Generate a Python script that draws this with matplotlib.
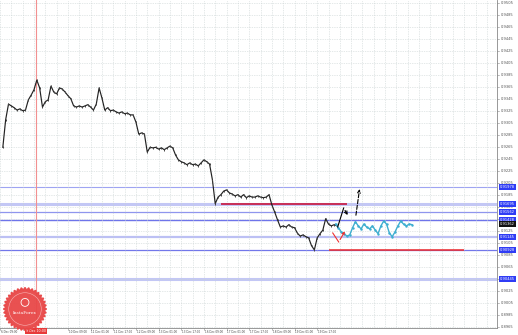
import numpy as np
import matplotlib
matplotlib.use("Agg")
import matplotlib.pyplot as plt

# price samples every 2 hours
close = [0.9264, 0.9310, 0.9336, 0.9333, 0.9330, 0.9326, 0.9328, 0.9325, 0.9326, 0.9343,
         0.9351, 0.9360, 0.9376, 0.9363, 0.9331, 0.9340, 0.9343, 0.9366, 0.9356, 0.9353,
         0.9363, 0.9361, 0.9356, 0.9350, 0.9345, 0.9333, 0.9331, 0.9333, 0.9331, 0.9333,
         0.9335, 0.9331, 0.9326, 0.9336, 0.9363, 0.9346, 0.9326, 0.9330, 0.9325, 0.9326,
         0.9323, 0.9321, 0.9323, 0.9320, 0.9321, 0.9318, 0.9318, 0.9306, 0.9286, 0.9288,
         0.9286, 0.9256, 0.9264, 0.9263, 0.9264, 0.9261, 0.9263, 0.9260, 0.9263, 0.9266,
         0.9263, 0.9251, 0.9243, 0.9240, 0.9238, 0.9235, 0.9238, 0.9235, 0.9236, 0.9233,
         0.9238, 0.9243, 0.9240, 0.9236, 0.9210, 0.9170, 0.9181, 0.9185, 0.9191, 0.9193,
         0.9188, 0.9186, 0.9183, 0.9185, 0.9181, 0.9185, 0.9180, 0.9183, 0.9181, 0.9181,
         0.9183, 0.9181, 0.9180, 0.9181, 0.9185, 0.9168, 0.9156, 0.9143, 0.9131, 0.9133,
         0.9131, 0.9135, 0.9131, 0.9130, 0.9121, 0.9116, 0.9118, 0.9115, 0.9113, 0.9100,
         0.9093, 0.9113, 0.9120, 0.9126, 0.9145, 0.9136, 0.9133, 0.9135, 0.9133]
hours = np.arange(len(close)) * 2

forecast = [0.9136, 0.9130, 0.9123, 0.9120, 0.9116, 0.9118, 0.9130, 0.9140, 0.9133, 0.9128,
            0.9136, 0.9131, 0.9128, 0.9133, 0.9126, 0.9120, 0.9133, 0.9141, 0.9136, 0.9121,
            0.9115, 0.9123, 0.9133, 0.9141, 0.9136, 0.9133, 0.9136, 0.9135]
forecast_start = 235
forecast_hours = forecast_start + np.arange(len(forecast)) * 2

levels = [0.91978, 0.91695, 0.91562, 0.91428, 0.91145, 0.90928, 0.90445]
level_widths = [0.8, 2.2, 0.9, 1.0, 1.6, 0.9, 2.2]
level_colors = ['#9ea4f2', '#c3c7f5', '#8f95ee', '#6e74ea', '#bcc0f4', '#7277ea', '#c3c7f5']
current_price = 0.91362

time_labels = ["6 Dec 09:00", "9 Dec 01:00", "9 Dec 17:00", "10 Dec 09:00", "11 Dec 01:00",
               "11 Dec 17:00", "12 Dec 09:00", "13 Dec 01:00", "13 Dec 17:00", "16 Dec 09:00",
               "17 Dec 01:00", "17 Dec 17:00", "18 Dec 09:00", "19 Dec 01:00", "19 Dec 17:00"]
time_ticks = [-2 + 16 * k for k in range(len(time_labels))]
price_ticks = [round(0.9505 - 0.002 * k, 4) for k in range(28)]
marker_time = 23.2

fig = plt.figure(figsize=(5.18, 3.35), dpi=100)
fig.patch.set_facecolor('white')
ax = fig.add_axes([0, 7 / 335, 497 / 518, 328 / 335])
ax.set_xlim(0, 349)
ax.set_ylim(0.89628, 0.95095)

# grid
ax.set_xticks(time_ticks)
ax.set_xticks(np.arange(6, 349, 8), minor=True)
ax.set_yticks(price_ticks)
ax.grid(True, which='both', color='#c9d2d2', ls=(0, (1, 1.5)), lw=0.5)
ax.tick_params(which='both', length=0, labelbottom=False, labelleft=False)
for s in ['left', 'top']:
    ax.spines[s].set_visible(False)
for s in ['right', 'bottom']:
    ax.spines[s].set_color('#888888')
    ax.spines[s].set_linewidth(0.6)

# support / resistance lines
for lv, w, c in zip(levels, level_widths, level_colors):
    ax.axhline(lv, color=c, lw=w, zorder=1)

ax.axvline(marker_time, color='#f29090', lw=0.8, zorder=1)

ax.hlines(levels[1], 154, 243, color='#c8224a', lw=1.3, zorder=3)
ax.hlines(levels[5], 230, 326, color='#ee2a2a', lw=1.1, zorder=3)

# price
ax.plot(hours, close, color='#222222', lw=0.85, zorder=4)
ax.vlines(hours, np.array(close) - 0.00015, np.array(close) + 0.00015, color='#444444', lw=0.7, zorder=4)

# forecast
ax.plot(forecast_hours, forecast, color='#3eaed0', lw=1.0, marker='.', ms=1.5, zorder=5)

# arrows
ax.plot([236.5, 240.7], [0.91312, 0.91628], color='black', lw=0.8, zorder=6)
ax.annotate('', xy=(244.5, 0.91470), xytext=(240.7, 0.91628),
            arrowprops=dict(arrowstyle='->', color='black', lw=0.8, mutation_scale=5), zorder=6)
ax.annotate('', xy=(252.2, 0.91990), xytext=(249.1, 0.91462),
            arrowprops=dict(arrowstyle='->', color='black', lw=0.8, ls='--', mutation_scale=5), zorder=6)
ax.plot([233, 237.2], [0.91212, 0.91062], color='#ee3030', lw=0.8, zorder=6)
ax.annotate('', xy=(242.5, 0.91280), xytext=(237.2, 0.91062),
            arrowprops=dict(arrowstyle='->', color='#ee3030', lw=0.8, mutation_scale=4), zorder=6)

# right price scale
ytr = ax.get_yaxis_transform()
for p in price_ticks:
    ax.text(1.008, p, f"{p:.4f}", transform=ytr, fontsize=2.6, color='#555555',
            va='center', ha='left', clip_on=False)
    ax.plot([1.0, 1.004], [p, p], transform=ytr, color='#888888', lw=0.4, clip_on=False)
for lv in levels:
    ax.text(1.006, lv, f"{lv:.5f}", transform=ytr, fontsize=2.6, color='white', va='center',
            ha='left', clip_on=False, zorder=10,
            bbox=dict(boxstyle='square,pad=0.25', fc='#2f3cf5', ec='none'))
ax.text(1.006, current_price, f"{current_price:.5f}", transform=ytr, fontsize=2.6, color='white',
        va='center', ha='left', clip_on=False, zorder=10,
        bbox=dict(boxstyle='square,pad=0.25', fc='#111111', ec='none'))

# time labels (the ones under the marker box are hidden, as in the terminal)
xtr = ax.get_xaxis_transform()
for t, lab in zip(time_ticks, time_labels):
    ax.plot([t, t], [0, -0.006], transform=xtr, color='#888888', lw=0.4, clip_on=False)
    if abs(t - marker_time) < 12:
        continue
    ax.text(t + 0.5, -0.006, lab, transform=xtr, fontsize=2.0, color='#444444', ha='left', va='top',
            clip_on=False)
ax.text(marker_time, -0.004, "9 Dec 10:00", transform=xtr, fontsize=2.3, color='white',
        ha='center', va='top', clip_on=False, zorder=10,
        bbox=dict(boxstyle='square,pad=0.3', fc='#e83a3a', ec='none'))

# logo badge
lax = fig.add_axes([3 / 518, 1 - 331 / 335, 44 / 518, 44 / 335])
lax.set_xlim(-1, 1)
lax.set_ylim(-1, 1)
lax.set_aspect('equal')
lax.axis('off')
ang = np.linspace(0, 2 * np.pi, 73)
rad = np.where(np.arange(73) % 2 == 0, 0.98, 0.86)
lax.fill(rad * np.cos(ang), rad * np.sin(ang), color='#e84848', alpha=0.95)
lax.add_patch(plt.Circle((0, 0), 0.74, fill=False, ec='#f7b5b5', lw=0.4))
lax.add_patch(plt.Circle((0, 0.3), 0.18, fill=False, ec='white', lw=0.6))
lax.text(0, -0.18, "InstaForex", color='white', fontsize=3.2, ha='center', va='center',
         family='DejaVu Serif')

fig.savefig('out.png', dpi=100)
